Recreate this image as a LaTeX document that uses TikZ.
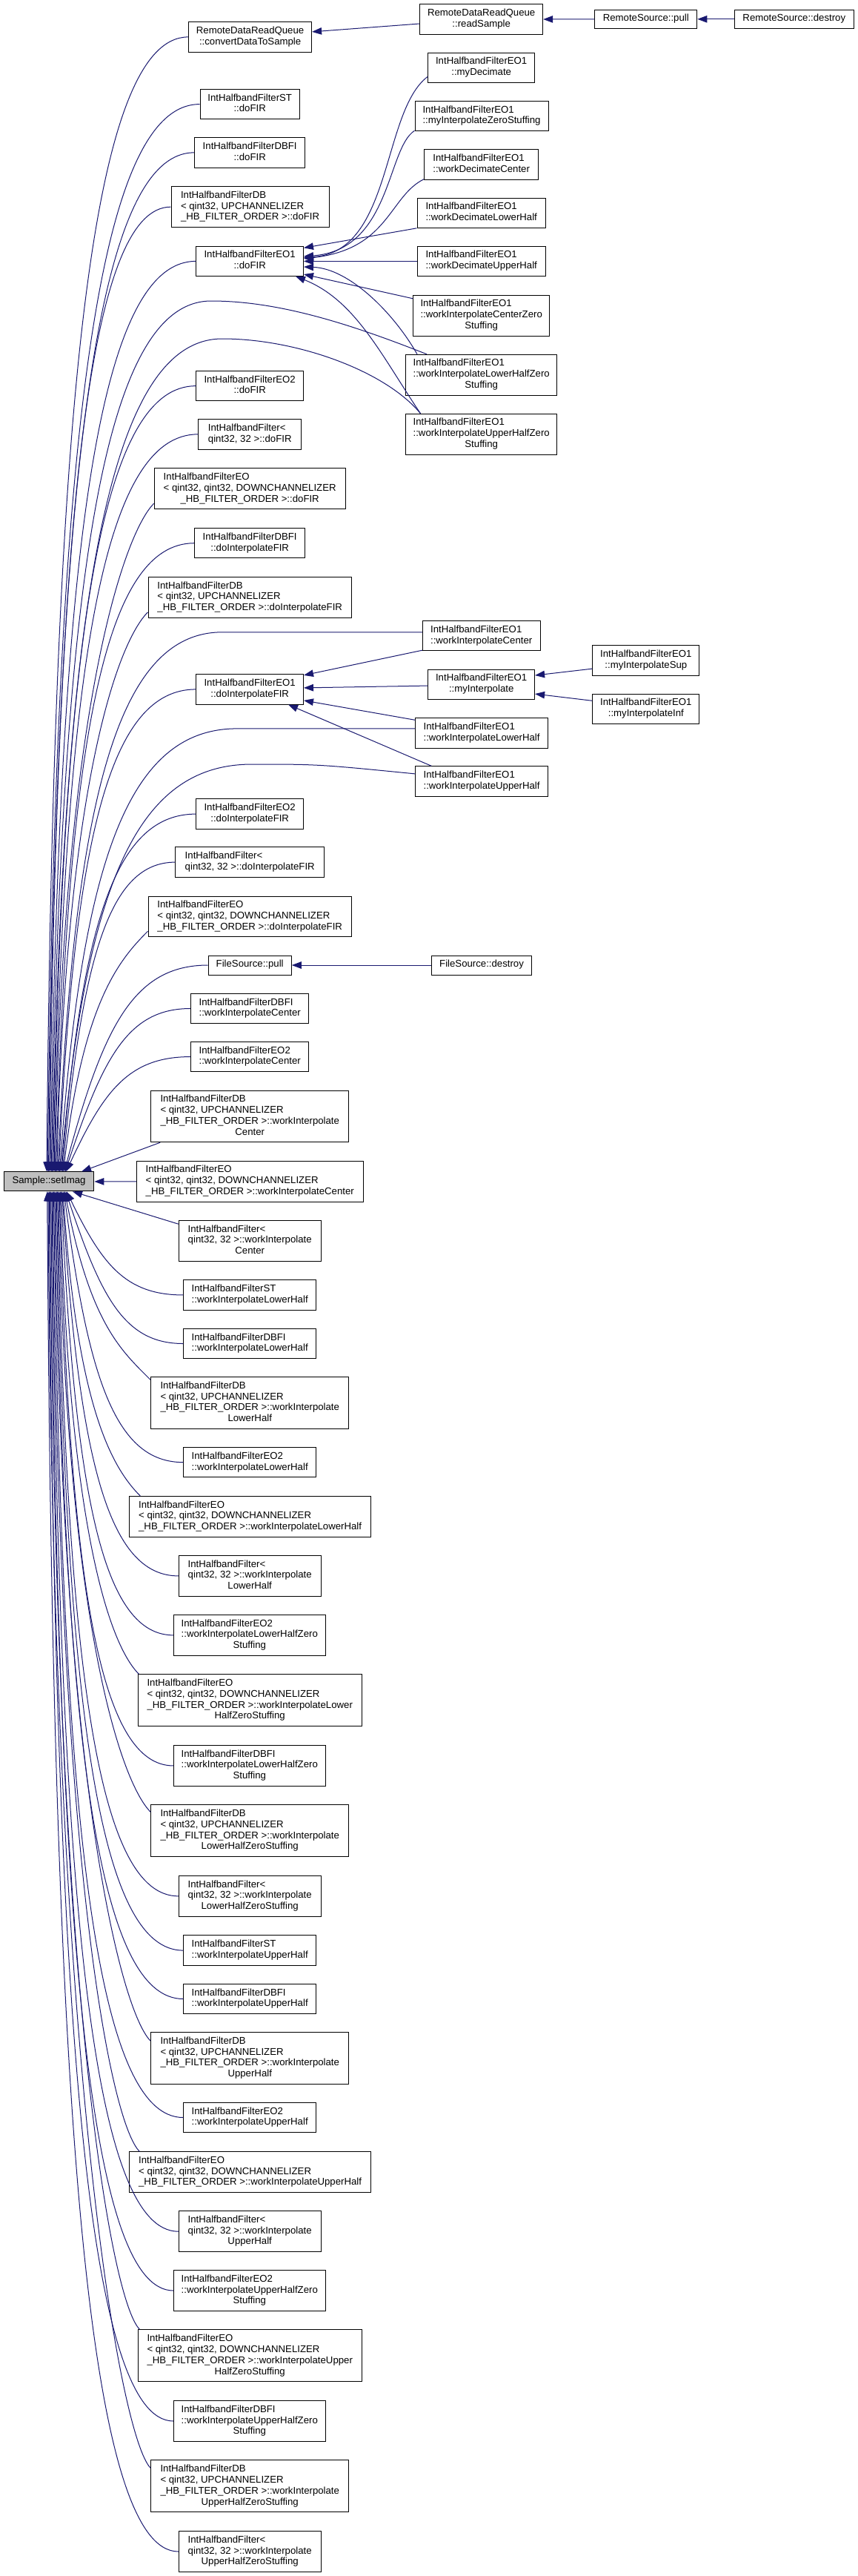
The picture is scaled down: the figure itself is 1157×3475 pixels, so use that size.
\documentclass[tikz,border=0pt]{standalone}
\usepackage{fontspec}
\setmainfont{Liberation Sans}
\usetikzlibrary{arrows.meta}
\definecolor{edgec}{RGB}{25,25,112}
\definecolor{smpfill}{RGB}{191,191,191}
\newcommand\mkc[1]{\multicolumn{1}{@{}c@{}}{#1}}
\newcommand\tbl[1]{\begin{tabular}{@{}l@{}}#1\end{tabular}}
\tikzset{
  gbox/.style={draw=black, line width=1pt, fill=white, inner sep=0pt,
    font=\fontsize{13.2}{14.8}\selectfont},
  gedge/.style={draw=edgec, line width=1pt, -{Triangle[length=13pt,width=9.5pt]}, edgec},
}
\newcommand\bx[7][]{%
  \pgfmathsetmacro\bw{#4-#3}\pgfmathsetmacro\bh{#6-#5}%
  \pgfmathsetmacro\bcx{(#3+#4)/2}\pgfmathsetmacro\bcy{(#5+#6)/2}%
  \node[gbox,#1,minimum width=\bw pt,minimum height=\bh pt] (#2) at (\bcx,\bcy) {\tbl{#7}};}
% edge to top of Sample
\newcommand\upE[5]{%
  \pgfmathsetmacro\dX{#2-#4}\pgfmathsetmacro\dY{1581-#3}%
  \pgfmathsetmacro\fr{min(1,250/\dY)}%
  \pgfmathsetmacro\al{0.5+0.2*(1-\fr)}\pgfmathsetmacro\be{0.3*\fr}%
  \ifnum#5=1 \pgfmathsetmacro\ax{#2-40}\pgfmathsetmacro\ay{#3+40}%
  \else \pgfmathsetmacro\ax{#2-\al*\dX}\pgfmathsetmacro\ay{#3}\fi
  \pgfmathsetmacro\bxx{#4+\be*\dX}\pgfmathsetmacro\byy{#3+0.3*\dY}%
  \pgfmathsetmacro\sh{#4-66.05}%
  \draw[gedge] #1 .. controls (\ax,\ay) and (\bxx,\byy) .. ([xshift=\sh pt]smp.north);}
% edge to bottom of Sample
\newcommand\dnE[5]{%
  \pgfmathsetmacro\dX{#2-#4}\pgfmathsetmacro\dY{#3-1607}%
  \pgfmathsetmacro\fr{min(1,250/\dY)}%
  \pgfmathsetmacro\al{0.5+0.2*(1-\fr)}\pgfmathsetmacro\be{0.3*\fr}%
  \ifnum#5=1 \pgfmathsetmacro\ax{#2-40}\pgfmathsetmacro\ay{#3-40}%
  \else \pgfmathsetmacro\ax{#2-\al*\dX}\pgfmathsetmacro\ay{#3}\fi
  \pgfmathsetmacro\bxx{#4+\be*\dX}\pgfmathsetmacro\byy{#3-0.3*\dY}%
  \pgfmathsetmacro\sh{#4-66.05}%
  \draw[gedge] #1 .. controls (\ax,\ay) and (\bxx,\byy) .. ([xshift=\sh pt]smp.south);}
\begin{document}
\begin{tikzpicture}[x=1pt,y=-1pt]
\fill[white] (0,0) rectangle (1157,3475);
\useasboundingbox (0,0) rectangle (1157,3475);
% ---------- nodes ----------
\bx[fill=smpfill]{smp}{5.2}{126.9}{1580.9}{1606.9}{Sample::setImag}
\bx{conv}{254.6}{420.6}{29.8}{70.0}{RemoteDataReadQueue\\\mkc{::convertDataToSample}}
\bx{readS}{566.7}{732.7}{5.7}{46.3}{RemoteDataReadQueue\\\mkc{::readSample}}
\bx{rspull}{802.8}{940.8}{13.0}{38.6}{RemoteSource::pull}
\bx{rsdest}{991}{1152.6}{13.0}{38.6}{RemoteSource::destroy}
\bx{myDec}{577.8}{721.6}{71.2}{111.4}{IntHalfbandFilterEO1\\\mkc{::myDecimate}}
\bx{myIZS}{560}{740.1}{136.2}{176.8}{IntHalfbandFilterEO1\\\mkc{::myInterpolateZeroStuffing}}
\bx{wDC}{572.6}{726.8}{201.3}{242.2}{IntHalfbandFilterEO1\\\mkc{::workDecimateCenter}}
\bx{wDLH}{563}{736.4}{267.1}{307.3}{IntHalfbandFilterEO1\\\mkc{::workDecimateLowerHalf}}
\bx{wDUH}{563}{736.4}{332.5}{372.3}{IntHalfbandFilterEO1\\\mkc{::workDecimateUpperHalf}}
\bx{wICZS}{557.8}{741.6}{398.3}{453.1}{IntHalfbandFilterEO1\\::workInterpolateCenterZero\\\mkc{Stuffing}}
\bx{wILHZSa}{547.5}{751.9}{478.3}{533.0}{IntHalfbandFilterEO1\\::workInterpolateLowerHalfZero\\\mkc{Stuffing}}
\bx{wIUHZSa}{547.5}{751.9}{558.3}{613.3}{IntHalfbandFilterEO1\\::workInterpolateUpperHalfZero\\\mkc{Stuffing}}
\bx{STdoFIR}{270}{404.4}{120.5}{160.7}{IntHalfbandFilterST\\\mkc{::doFIR}}
\bx{DBFIdoFIR}{262.7}{411.7}{185.6}{226.1}{IntHalfbandFilterDBFI\\\mkc{::doFIR}}
\bx{DBdoFIR}{231}{444.2}{251.4}{306.9}{IntHalfbandFilterDB\\< qint32, UPCHANNELIZER\\\mkc{\_HB\_FILTER\_ORDER >::doFIR}}
\bx{EO1doFIR}{264.9}{409.5}{332.5}{372.3}{IntHalfbandFilterEO1\\\mkc{::doFIR}}
\bx{EO2doFIR}{264.9}{409.5}{500.5}{540.7}{IntHalfbandFilterEO2\\\mkc{::doFIR}}
\bx{IHFdoFIR}{267.9}{406.6}{565.6}{606}{IntHalfbandFilter<\\\mkc{qint32, 32 >::doFIR}}
\bx{EOdoFIR}{208.1}{466.3}{631.7}{686.8}{IntHalfbandFilterEO\\< qint32, qint32, DOWNCHANNELIZER\\\mkc{\_HB\_FILTER\_ORDER >::doFIR}}
\bx{DBFIdoIFIR}{262.7}{411.7}{712.8}{752.6}{IntHalfbandFilterDBFI\\\mkc{::doInterpolateFIR}}
\bx{DBdoIFIR}{200}{474.5}{778.6}{833.3}{IntHalfbandFilterDB\\< qint32, UPCHANNELIZER\\\mkc{\_HB\_FILTER\_ORDER >::doInterpolateFIR}}
\bx{wICa}{570.4}{729}{837.9}{877.7}{IntHalfbandFilterEO1\\\mkc{::workInterpolateCenter}}
\bx{EO1doIFIR}{264.9}{409.5}{909.8}{950}{IntHalfbandFilterEO1\\\mkc{::doInterpolateFIR}}
\bx{myI}{577.8}{721.6}{903}{943.1}{IntHalfbandFilterEO1\\\mkc{::myInterpolate}}
\bx{myISup}{799.9}{943.8}{870.8}{911.4}{IntHalfbandFilterEO1\\\mkc{::myInterpolateSup}}
\bx{myIInf}{799.9}{943.8}{936.2}{976.4}{IntHalfbandFilterEO1\\\mkc{::myInterpolateInf}}
\bx{wILHa}{560.8}{739.4}{968.8}{1009}{IntHalfbandFilterEO1\\\mkc{::workInterpolateLowerHalf}}
\bx{wIUHa}{560.8}{739.4}{1033.8}{1074}{IntHalfbandFilterEO1\\\mkc{::workInterpolateUpperHalf}}
\bx{EO2doIFIR}{264.9}{409.5}{1077.8}{1118.4}{IntHalfbandFilterEO2\\\mkc{::doInterpolateFIR}}
\bx{IHFdoIFIR}{236.9}{437.6}{1142.9}{1183.3}{IntHalfbandFilter<\\\mkc{qint32, 32 >::doInterpolateFIR}}
\bx{EOdoIFIR}{200}{474.5}{1209}{1263.7}{IntHalfbandFilterEO\\< qint32, qint32, DOWNCHANNELIZER\\\mkc{\_HB\_FILTER\_ORDER >::doInterpolateFIR}}
\bx{FSpull}{281.1}{393.3}{1289}{1315}{FileSource::pull}
\bx{FSdest}{582.9}{717.2}{1289}{1315}{FileSource::destroy}
\bx{DBFIwIC}{257.5}{416.9}{1340.2}{1380.8}{IntHalfbandFilterDBFI\\\mkc{::workInterpolateCenter}}
\bx{EO2wIC}{257.5}{416.9}{1405.3}{1445.8}{IntHalfbandFilterEO2\\\mkc{::workInterpolateCenter}}
\bx{DBwIC}{203.7}{470.8}{1471.1}{1540.7}{IntHalfbandFilterDB\\< qint32, UPCHANNELIZER\\\_HB\_FILTER\_ORDER >::workInterpolate\\\mkc{Center}}
\bx{EOwIC}{184.5}{490}{1566.4}{1621.1}{IntHalfbandFilterEO\\< qint32, qint32, DOWNCHANNELIZER\\\mkc{\_HB\_FILTER\_ORDER >::workInterpolateCenter}}
\bx{IHFwIC}{241.3}{433.1}{1646.7}{1701.1}{IntHalfbandFilter<\\qint32, 32 >::workInterpolate\\\mkc{Center}}
\bx{STwILH}{247.9}{426.5}{1726.7}{1767.2}{IntHalfbandFilterST\\\mkc{::workInterpolateLowerHalf}}
\bx{DBFIwILH}{247.9}{426.5}{1792.4}{1832.6}{IntHalfbandFilterDBFI\\\mkc{::workInterpolateLowerHalf}}
\bx{DBwILH}{203.7}{470.8}{1857.9}{1927.1}{IntHalfbandFilterDB\\< qint32, UPCHANNELIZER\\\_HB\_FILTER\_ORDER >::workInterpolate\\\mkc{LowerHalf}}
\bx{EO2wILH}{247.9}{426.5}{1952.4}{1992.9}{IntHalfbandFilterEO2\\\mkc{::workInterpolateLowerHalf}}
\bx{EOwILH}{174.9}{500.3}{2018.6}{2073.3}{IntHalfbandFilterEO\\< qint32, qint32, DOWNCHANNELIZER\\\mkc{\_HB\_FILTER\_ORDER >::workInterpolateLowerHalf}}
\bx{IHFwILH}{241.3}{433.1}{2098.5}{2153.3}{IntHalfbandFilter<\\qint32, 32 >::workInterpolate\\\mkc{LowerHalf}}
\bx{EO2wILHZS}{234.6}{439}{2178.5}{2233.2}{IntHalfbandFilterEO2\\::workInterpolateLowerHalfZero\\\mkc{Stuffing}}
\bx{EOwILHZS}{186}{488.5}{2258.9}{2328.5}{IntHalfbandFilterEO\\< qint32, qint32, DOWNCHANNELIZER\\\_HB\_FILTER\_ORDER >::workInterpolateLower\\\mkc{HalfZeroStuffing}}
\bx{DBFIwILHZS}{234.6}{439}{2354.4}{2409.5}{IntHalfbandFilterDBFI\\::workInterpolateLowerHalfZero\\\mkc{Stuffing}}
\bx{DBwILHZS}{203.7}{470.8}{2434.8}{2504.8}{IntHalfbandFilterDB\\< qint32, UPCHANNELIZER\\\_HB\_FILTER\_ORDER >::workInterpolate\\\mkc{LowerHalfZeroStuffing}}
\bx{IHFwILHZS}{241.3}{433.1}{2530.5}{2585.2}{IntHalfbandFilter<\\qint32, 32 >::workInterpolate\\\mkc{LowerHalfZeroStuffing}}
\bx{STwIUH}{247.9}{426.5}{2610.8}{2651.4}{IntHalfbandFilterST\\\mkc{::workInterpolateUpperHalf}}
\bx{DBFIwIUH}{247.9}{426.5}{2676.2}{2716.8}{IntHalfbandFilterDBFI\\\mkc{::workInterpolateUpperHalf}}
\bx{DBwIUH}{203.7}{470.8}{2741.7}{2811.3}{IntHalfbandFilterDB\\< qint32, UPCHANNELIZER\\\_HB\_FILTER\_ORDER >::workInterpolate\\\mkc{UpperHalf}}
\bx{EO2wIUH}{247.9}{426.5}{2836.2}{2876.8}{IntHalfbandFilterEO2\\\mkc{::workInterpolateUpperHalf}}
\bx{EOwIUH}{174.9}{500.3}{2902.9}{2957.2}{IntHalfbandFilterEO\\< qint32, qint32, DOWNCHANNELIZER\\\mkc{\_HB\_FILTER\_ORDER >::workInterpolateUpperHalf}}
\bx{IHFwIUH}{241.3}{433.1}{2982.9}{3037.5}{IntHalfbandFilter<\\qint32, 32 >::workInterpolate\\\mkc{UpperHalf}}
\bx{EO2wIUHZS}{234.6}{439}{3062.5}{3117.5}{IntHalfbandFilterEO2\\::workInterpolateUpperHalfZero\\\mkc{Stuffing}}
\bx{EOwIUHZS}{186}{488.5}{3142.8}{3212.8}{IntHalfbandFilterEO\\< qint32, qint32, DOWNCHANNELIZER\\\_HB\_FILTER\_ORDER >::workInterpolateUpper\\\mkc{HalfZeroStuffing}}
\bx{DBFIwIUHZS}{234.6}{439}{3238.5}{3293.5}{IntHalfbandFilterDBFI\\::workInterpolateUpperHalfZero\\\mkc{Stuffing}}
\bx{DBwIUHZS}{203.7}{470.8}{3318.8}{3388.8}{IntHalfbandFilterDB\\< qint32, UPCHANNELIZER\\\_HB\_FILTER\_ORDER >::workInterpolate\\\mkc{UpperHalfZeroStuffing}}
\bx{IHFwIUHZS}{241.3}{433.1}{3414.5}{3469.5}{IntHalfbandFilter<\\qint32, 32 >::workInterpolate\\\mkc{UpperHalfZeroStuffing}}
% ---------- edges into Sample (from above) ----------
\upE{(conv.west)}{254.6}{49.9}{63}{0}
\upE{(STdoFIR.west)}{270}{140.6}{64.25}{0}
\upE{(DBFIdoFIR.west)}{262.7}{205.85}{65.5}{0}
\upE{(DBdoFIR.west)}{231}{279.15}{66.75}{0}
\upE{(EO1doFIR.west)}{264.9}{352.4}{68}{0}
\upE{([xshift=29pt]wILHZSa.north west) .. controls (480,440) and (380,406) .. (285,406)}{285}{406}{69.25}{0}
\upE{([xshift=20.5pt]wIUHZSa.north west) .. controls (520,500) and (400,457) .. (300,457)}{300}{457}{70.5}{0}
\upE{(EO2doFIR.west)}{264.9}{520.6}{71.75}{0}
\upE{(IHFdoFIR.west)}{267.9}{585.8}{73}{0}
\upE{([yshift=8pt]EOdoFIR.south west)}{208.1}{678.8}{74.25}{1}
\upE{(DBFIdoIFIR.west)}{262.7}{732.7}{75.5}{0}
\upE{([yshift=8pt]DBdoIFIR.south west)}{200}{825.3}{76.75}{1}
\upE{([yshift=5pt]wICa.west) -- (300,852.8)}{300}{852.8}{78}{0}
\upE{(EO1doIFIR.west)}{264.9}{929.9}{79.25}{0}
\upE{([yshift=6pt]wILHa.west) -- (320,982.9)}{320}{982.9}{80.5}{0}
\upE{([yshift=10pt]wIUHa.west) .. controls (430,1031) .. (340,1031)}{340}{1031}{81.75}{0}
\upE{(EO2doIFIR.west)}{264.9}{1098.1}{83}{0}
\upE{(IHFdoIFIR.west)}{236.9}{1163.1}{84.25}{0}
\upE{([yshift=8pt]EOdoIFIR.south west)}{200}{1255.7}{85.5}{1}
\upE{(FSpull.west)}{281.1}{1302}{86.75}{0}
\upE{(DBFIwIC.west)}{257.5}{1360.5}{88}{0}
\upE{(EO2wIC.west)}{257.5}{1425.55}{89.25}{0}
\draw[gedge] ([xshift=13pt]DBwIC.south west) -- ([xshift=44pt]smp.north);
\draw[gedge] (EOwIC.west) -- (smp.east);
\draw[gedge] ([yshift=-5pt]IHFwIC.north west) -- ([xshift=32pt]smp.south);
% ---------- edges into Sample (from below) ----------
\dnE{(STwILH.west)}{247.9}{1746.95}{90}{0}
\dnE{(DBFIwILH.west)}{247.9}{1812.5}{88.75}{0}
\dnE{([yshift=-4pt]DBwILH.north west)}{203.7}{1862}{87.5}{1}
\dnE{(EO2wILH.west)}{247.9}{1972.65}{86.25}{0}
\dnE{([xshift=15pt]EOwILH.north west)}{189.9}{2018.6}{85}{1}
\dnE{(IHFwILH.west)}{241.3}{2125.9}{83.75}{0}
\dnE{(EO2wILHZS.west)}{234.6}{2205.85}{82.5}{0}
\dnE{([xshift=2pt]EOwILHZS.north west)}{188}{2258.9}{81.25}{1}
\dnE{(DBFIwILHZS.west)}{234.6}{2381.95}{80}{0}
\dnE{([yshift=-10pt]DBwILHZS.north west)}{203.7}{2444.8}{78.75}{1}
\dnE{(IHFwILHZS.west)}{241.3}{2557.85}{77.5}{0}
\dnE{(STwIUH.west)}{247.9}{2631.1}{76.25}{0}
\dnE{(DBFIwIUH.west)}{247.9}{2696.5}{75}{0}
\dnE{([yshift=-12pt]DBwIUH.north west)}{203.7}{2753.7}{73.75}{1}
\dnE{(EO2wIUH.west)}{247.9}{2856.5}{72.5}{0}
\dnE{([xshift=14pt]EOwIUH.north west)}{188.9}{2902.9}{71.25}{1}
\dnE{(IHFwIUH.west)}{241.3}{3010.2}{70}{0}
\dnE{(EO2wIUHZS.west)}{234.6}{3090}{68.75}{0}
\dnE{([xshift=3pt]EOwIUHZS.north west)}{189}{3142.8}{67.5}{1}
\dnE{(DBFIwIUHZS.west)}{234.6}{3266}{66.25}{0}
\dnE{([yshift=-11pt]DBwIUHZS.north west)}{203.7}{3329.8}{65}{1}
\dnE{(IHFwIUHZS.west)}{241.3}{3442}{63.75}{0}
% ---------- edges into EO1::doFIR ----------
\draw[gedge] ([yshift=-12pt]myDec.west) .. controls (515,150) and (530,340) .. ([yshift=5pt]EO1doFIR.east);
\draw[gedge] ([yshift=1pt]myIZS.south west) .. controls (522,200) and (528,337) .. ([yshift=6.5pt]EO1doFIR.east);
\draw[gedge] ([yshift=1pt]wDC.south west) .. controls (525,265) and (525,336) .. ([yshift=3.5pt]EO1doFIR.east);
\draw[gedge] (wDLH.south west) -- ([yshift=18pt]EO1doFIR.east);
\draw[gedge] (wDUH.west) -- (EO1doFIR.east);
\draw[gedge] ([yshift=-5pt]wICZS.north west) -- ([yshift=-17.6pt]EO1doFIR.east);
\draw[gedge] ([xshift=16pt]wILHZSa.north west) .. controls (530,420) and (470,362) .. ([yshift=-7.6pt]EO1doFIR.east);
\draw[gedge] ([xshift=20.5pt]wIUHZSa.north west) .. controls (515,480) and (480,405) .. ([xshift=-11pt]EO1doFIR.south east);
% ---------- edges into EO1::doInterpolateFIR ----------
\draw[gedge] ([yshift=1pt]wICa.south west) -- ([yshift=19pt]EO1doIFIR.east);
\draw[gedge] ([yshift=-2pt]myI.west) -- ([yshift=2pt]EO1doIFIR.east);
\draw[gedge] ([yshift=-3pt]wILHa.north west) -- ([yshift=-15pt]EO1doIFIR.east);
\draw[gedge] ([xshift=22pt]wIUHa.north west) -- ([xshift=-21pt]EO1doIFIR.south east);
% ---------- edges into EO1::myInterpolate ----------
\draw[gedge] ([yshift=-11pt]myISup.west) -- ([yshift=12pt]myI.east);
\draw[gedge] ([yshift=11pt]myIInf.west) -- ([yshift=-13pt]myI.east);
% ---------- chains ----------
\draw[gedge] ([yshift=-6pt]readS.west) -- ([yshift=7pt]conv.east);
\draw[gedge] (rspull.west) -- (readS.east);
\draw[gedge] (rsdest.west) -- (rspull.east);
\draw[gedge] (FSdest.west) -- (FSpull.east);
\end{tikzpicture}
\end{document}
